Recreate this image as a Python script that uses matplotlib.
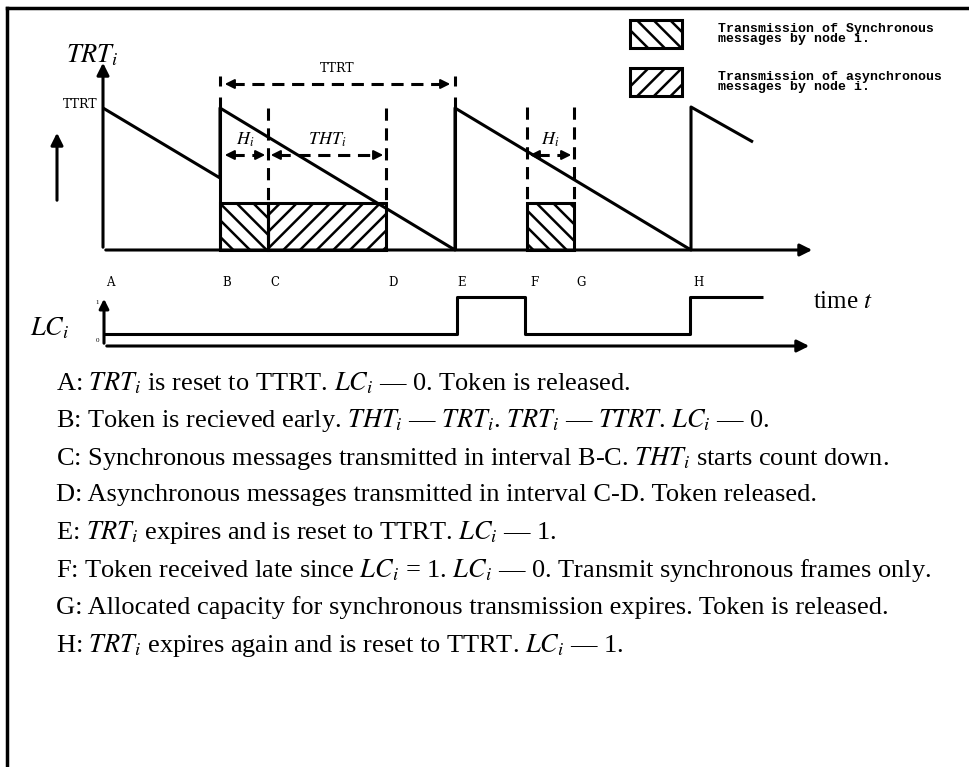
import matplotlib
matplotlib.use('Agg')
import matplotlib.pyplot as plt
from matplotlib.patches import Rectangle

plt.rcParams['font.family'] = ['Liberation Serif', 'DejaVu Serif']
plt.rcParams['mathtext.fontset'] = 'stix'
plt.rcParams['hatch.linewidth'] = 1.8

# event labels and their times (drawing units = pixels along the time axis)
events = ['A', 'B', 'C', 'D', 'E', 'F', 'G', 'H']
event_t = [103, 220, 268, 386, 455, 527, 574, 691]

# TRT_i sawtooth (time, value above baseline)
trt_t = [103, 220, 220, 455, 455, 691, 691, 753]
trt_v = [142, 72, 142, 0, 142, 0, 143, 108]

# LC_i late counter
lc_t = [104, 457, 457, 525, 525, 690, 690, 763]
lc_v = [0, 0, 1, 1, 0, 0, 1, 1]

# transmission intervals: (start, end, kind)
tx_start = [220, 268, 527]
tx_end = [268, 386, 574]
tx_kind = ['sync', 'async', 'sync']

notes = [
    'A: $TRT_i$ is reset to TTRT. $LC_i$ — 0. Token is released.',
    'B: Token is recieved early. $THT_i$ — $TRT_i$. $TRT_i$ — $TTRT$. $LC_i$ — 0.',
    'C: Synchronous messages transmitted in interval B-C. $THT_i$ starts count down.',
    'D: Asynchronous messages transmitted in interval C-D. Token released.',
    'E: $TRT_i$ expires and is reset to TTRT. $LC_i$ — 1.',
    'F: Token received late since $LC_i$ = 1. $LC_i$ — 0. Transmit synchronous frames only.',
    'G: Allocated capacity for synchronous transmission expires. Token is released.',
    'H: $TRT_i$ expires again and is reset to TTRT. $LC_i$ — 1.',
]

legend_text = ['Transmission of Synchronous\nmessages by node i.',
               'Transmission of asynchronous\nmessages by node i.']

base = 250       # TRT baseline (pixel row)
lc_low, lc_high, lc_axis = 334, 297, 346
tx_height = 47
hatch_of = {'sync': '\\\\', 'async': '//'}

fig = plt.figure(figsize=(9.69, 7.67), dpi=100)
ax = fig.add_axes([0, 0, 1, 1])
ax.set_xlim(0, 969)
ax.set_ylim(767, 0)
ax.axis('off')

k = dict(color='black', lw=2.2, solid_capstyle='butt')

# frame
ax.plot([7, 969], [8, 8], color='black', lw=2.5)
ax.plot([7, 7], [8, 767], color='black', lw=2.5)

# TRT axes
ax.annotate('', xy=(103, 60), xytext=(103, base),
            arrowprops=dict(arrowstyle='-|>', color='black', lw=2.2, mutation_scale=18))
ax.annotate('', xy=(815, base), xytext=(103, base),
            arrowprops=dict(arrowstyle='-|>', color='black', lw=2.2, mutation_scale=18))
ax.annotate('', xy=(57, 130), xytext=(57, 203),
            arrowprops=dict(arrowstyle='-|>', color='black', lw=2.2, mutation_scale=18))
ax.text(92, 55, '$TRT_i$', fontsize=19, ha='center', va='center')
ax.text(80, 105, 'TTRT', fontsize=9, family='DejaVu Serif', ha='center', va='center')

# sawtooth
ax.plot(trt_t, [base - v for v in trt_v], **k)
# token arrival verticals at B and E
for t in [event_t[1], event_t[4]]:
    ax.plot([t, t], [base, 97], **k)

# transmission boxes
for s, e, kind in zip(tx_start, tx_end, tx_kind):
    ax.add_patch(Rectangle((s, base - tx_height), e - s, tx_height, fill=False,
                           hatch=hatch_of[kind], lw=2.2, edgecolor='black'))

# dashed markers at C, D, F, G
dash = dict(color='black', lw=2.2, linestyle=(0, (4, 2.5)))
ax.plot([event_t[2]] * 2, [108, base], **dash)
ax.plot([event_t[3]] * 2, [108, base - tx_height], **dash)
ax.plot([event_t[5]] * 2, [107, base - tx_height], **dash)
ax.plot([event_t[6]] * 2, [107, base - tx_height], **dash)


def dim_arrow(x0, x1, y, label, ly, fs=13, fam=None):
    ax.plot([x0 + 10, x1 - 10], [y, y], **dash)
    ax.annotate('', xy=(x0, y), xytext=(x0 + 14, y),
                arrowprops=dict(arrowstyle='-|>', color='black', lw=1.5, mutation_scale=14))
    ax.annotate('', xy=(x1, y), xytext=(x1 - 14, y),
                arrowprops=dict(arrowstyle='-|>', color='black', lw=1.5, mutation_scale=14))
    t = ax.text((x0 + x1) / 2, ly, label, fontsize=fs, ha='center', va='center')
    if fam:
        t.set_family(fam)


# TTRT span B..E
ax.plot([event_t[1], event_t[1]], [76, 86], **k)
ax.plot([event_t[4], event_t[4]], [76, 86], **k)
dim_arrow(event_t[1] + 2, event_t[4] - 2, 84, 'TTRT', 68, 9, 'DejaVu Serif')
dim_arrow(event_t[1] + 2, event_t[2], 155, '$H_i$', 140)
dim_arrow(event_t[2], event_t[3], 155, '$THT_i$', 140)
dim_arrow(event_t[5], event_t[6], 155, '$H_i$', 140)

# event letters
for name, t in zip(events, event_t):
    ax.text(t + 7, 283, name, fontsize=8.5, family='DejaVu Serif',
            ha='center', va='center')

# LC_i panel
ax.annotate('', xy=(104, 296), xytext=(104, lc_axis),
            arrowprops=dict(arrowstyle='-|>', color='black', lw=2.2, mutation_scale=14))
ax.annotate('', xy=(812, lc_axis), xytext=(104, lc_axis),
            arrowprops=dict(arrowstyle='-|>', color='black', lw=2.2, mutation_scale=18))
ax.plot(lc_t, [lc_low if v == 0 else lc_high for v in lc_v], **k)
ax.text(99, 302, '1', fontsize=5, ha='right', va='center')
ax.text(99, 341, '0', fontsize=5, ha='right', va='center')
ax.text(50, 328, '$LC_i$', fontsize=19, ha='center', va='center')
ax.text(813, 302, 'time $t$', fontsize=18, ha='left', va='center')

# legend
for i, (hatch, txt) in enumerate(zip(['\\\\', '//'], legend_text)):
    y0 = 20 + i * 48
    ax.add_patch(Rectangle((630, y0), 52, 28, fill=False, hatch=hatch,
                           lw=2.2, edgecolor='black'))
    ax.text(718, y0 + 14, txt, fontsize=9.5, family='Liberation Mono',
            weight='bold', ha='left', va='center', linespacing=0.75)

# notes
for i, line in enumerate(notes):
    ax.text(56, 383 + i * 37.5, line, fontsize=19, ha='left', va='center')

fig.savefig('out.png', dpi=100)
